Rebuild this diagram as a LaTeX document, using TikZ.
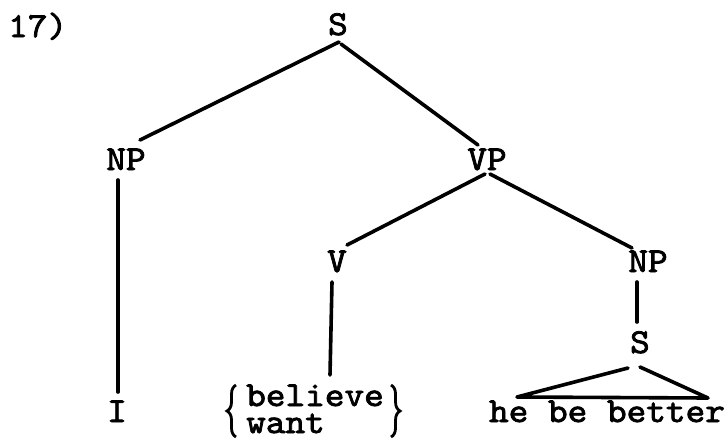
\documentclass[tikz,border=0pt]{standalone}
\usepackage{fontspec}
\newfontfamily\twfont[FakeBold=2.2, FakeStretch=1.07]{lmmono10-regular.otf}
\usetikzlibrary{calc,decorations.pathreplacing}
\begin{document}
\begin{tikzpicture}[x=1pt,y=-1pt,
  lbl/.style={font=\fontsize{35}{30}\selectfont\twfont, inner sep=0pt, anchor=base},
  edge/.style={line width=3.6pt, line cap=round, line join=round},
  bracedeco/.style={decorate, decoration={brace, amplitude=9pt}, line width=2.8pt}]
\useasboundingbox[fill=white] (0,0) rectangle (728,440);
\node[lbl, anchor=base west] (num) at (8,37) {17)};
\node[lbl] (s) at (338,35) {S};
\node[lbl] (np1) at (126,170) {NP};
\node[lbl] (vp) at (487,170) {VP};
\node[lbl] (v) at (337,272) {V};
\node[lbl] (np2) at (648,272) {NP};
\node[lbl] (s2) at (640,353) {S};
\node[lbl] (i) at (117,422) {I};
\node[lbl] (hbb) at (607,422) {he be better};
\node[lbl, anchor=base west] (bel) at (246,406) {believe};
\node[lbl, anchor=base west] (want) at (246,433) {want};
\draw[bracedeco] ($(bel.base west)+(-10,31)$) -- ($(bel.base west)+(-10,-21)$);
\draw[bracedeco] ($(bel.base east)+(7,-21)$) -- ($(bel.base east)+(7,31)$);
\draw[edge] ($(s.base)+(1,7)$) -- ($(np1.base)+(14,-30)$);
\draw[edge] ($(s.base)+(3,9)$) -- ($(vp.base)+(-9,-25)$);
\draw[edge] ($(np1.base)+(-8,10)$) -- ($(i.base)+(1,-30)$);
\draw[edge] ($(vp.base)+(-2,4)$) -- ($(v.base)+(10,-27)$);
\draw[edge] ($(vp.base)+(3,4)$) -- ($(np2.base)+(-16,-24)$);
\draw[edge] ($(v.base)+(-5,10)$) -- ($(bel.base west)+(84,-31)$);
\draw[edge] ($(np2.base)+(-11,10)$) -- ($(s2.base)+(-3,-31)$);
\draw[edge] ($(s2.base)+(-12,15)$) -- ($(hbb.base)+(-90,-25)$) -- ($(hbb.base)+(101,-24)$) -- ($(s2.base)+(0,14)$);
\end{tikzpicture}
\end{document}
